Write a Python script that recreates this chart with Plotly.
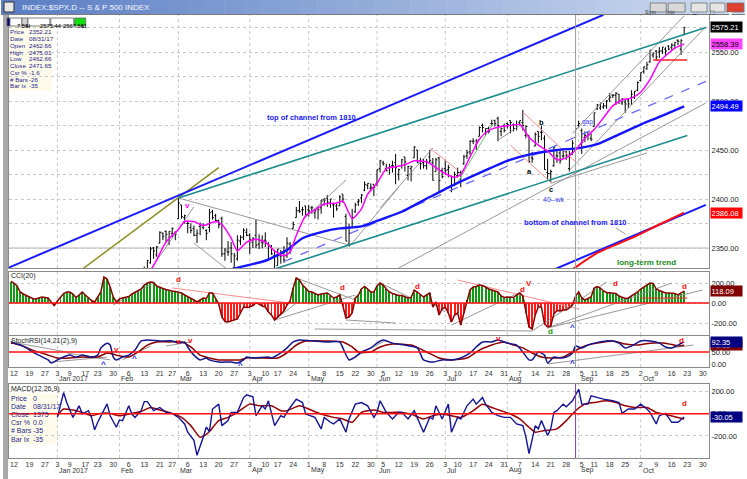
import pandas as pd
import plotly.graph_objects as go

# ---------------- trading calendar ----------------
HOLIDAYS = {"2016-12-26", "2017-01-02", "2017-01-16", "2017-02-20", "2017-04-14",
            "2017-05-29", "2017-07-04", "2017-09-04", "2017-11-23"}
CAL = [d.strftime("%Y-%m-%d") for d in pd.bdate_range("2016-12-01", "2017-11-30")]
CAL = [d for d in CAL if d not in HOLIDAYS]
BASE = CAL.index("2016-12-12")
POS = {d: i - BASE for i, d in enumerate(CAL)}


def ix(d):
    return POS[d]


def sessions(a, b):
    return [d for d in CAL if a <= d <= b]


# ---------------- tick labels ----------------
week_ticks = ["2016-12-12", "2016-12-19", "2016-12-27", "2017-01-03", "2017-01-09", "2017-01-17",
              "2017-01-23", "2017-01-30", "2017-02-06", "2017-02-13", "2017-02-21", "2017-02-27",
              "2017-03-06", "2017-03-13", "2017-03-20", "2017-03-27", "2017-04-03", "2017-04-10",
              "2017-04-17", "2017-04-24", "2017-05-01", "2017-05-08", "2017-05-15", "2017-05-22",
              "2017-05-30", "2017-06-05", "2017-06-12", "2017-06-19", "2017-06-26", "2017-07-03",
              "2017-07-10", "2017-07-17", "2017-07-24", "2017-07-31", "2017-08-07", "2017-08-14",
              "2017-08-21", "2017-08-28", "2017-09-05", "2017-09-11", "2017-09-18", "2017-09-25",
              "2017-10-02", "2017-10-09", "2017-10-16", "2017-10-23", "2017-10-30"]
week_text = [str(int(d[8:])) for d in week_ticks]
month_dates = ["2017-01-03", "2017-02-01", "2017-03-01", "2017-04-03", "2017-05-01", "2017-06-01",
               "2017-07-03", "2017-08-01", "2017-09-01", "2017-10-02"]
month_text = ["Jan 2017", "Feb", "Mar", "Apr", "May", "Jun", "Jul", "Aug", "Sep", "Oct"]

price_ticks = [2350, 2400, 2450, 2500, 2550]
cci_ticks = [-200, 0, 200]
stoch_ticks = [0, 50]
macd_ticks = [-200, 0, 200]

# ---------------- price bars (2017-02-13 .. 2017-10-20) ----------------
bar_start, bar_end = "2017-02-13", "2017-10-20"
opens = [
    2321, 2326, 2335, 2350, 2343, 2355, 2365, 2367, 2355, 2365, 2366,
    2380, 2394, 2381, 2375, 2371, 2370, 2363, 2372, 2371, 2368, 2371, 2387, 2383, 2378, 2380, 2344, 2346, 2350, 2330, 2339, 2357, 2361, 2366,
    2363, 2356, 2363, 2354, 2356, 2358, 2354, 2352, 2342, 2332, 2342, 2346, 2342, 2354, 2370, 2381, 2388, 2389, 2393,
    2389, 2391, 2386, 2391, 2391, 2399, 2401, 2396, 2394, 2393, 2393, 2405, 2382, 2354, 2371, 2387, 2397, 2401, 2409, 2414, 2411, 2415,
    2416, 2431, 2437, 2431, 2432, 2434, 2437, 2425, 2434, 2443, 2424, 2431, 2442, 2450, 2439, 2437, 2434, 2443, 2437, 2428, 2442, 2429,
    2431, 2430, 2423, 2414, 2424, 2427, 2436, 2444, 2448, 2459, 2455, 2464, 2475, 2467, 2472, 2477, 2480, 2482, 2469, 2475,
    2477, 2480, 2476, 2476, 2478, 2478, 2465, 2465, 2442, 2454, 2469, 2468, 2462, 2427, 2426, 2434, 2444, 2447, 2444, 2448, 2431, 2447, 2462.66,
    2475, 2470, 2463, 2468, 2462, 2474, 2492, 2493, 2494, 2495, 2502, 2506, 2506, 2507, 2498, 2499, 2501, 2503, 2504, 2511,
    2521, 2530, 2533, 2540, 2547, 2551, 2550, 2551, 2553, 2556, 2555, 2557, 2562, 2553, 2567.56]
highs = [
    2331, 2338, 2351, 2351, 2352, 2367, 2366, 2368, 2367, 2371, 2367,
    2401, 2394, 2384, 2378, 2375, 2373, 2369, 2376, 2375, 2369, 2390, 2389, 2385, 2379, 2382, 2350, 2357, 2356, 2345, 2363, 2363, 2370, 2370,
    2365, 2361, 2379, 2364, 2363, 2366, 2356, 2353, 2348, 2349, 2348, 2352, 2361, 2356, 2377, 2392, 2398, 2392, 2393,
    2394, 2393, 2390, 2392, 2399, 2401, 2404, 2400, 2395, 2395, 2404, 2405, 2385, 2375, 2390, 2396, 2400, 2405, 2418, 2416, 2416, 2415,
    2430, 2440, 2439, 2436, 2436, 2439, 2446, 2431, 2441, 2443, 2434, 2434, 2454, 2450, 2442, 2441, 2441, 2450, 2442, 2442, 2443, 2432,
    2440, 2435, 2424, 2428, 2432, 2429, 2445, 2450, 2460, 2462, 2461, 2474, 2477, 2472, 2474, 2481, 2481, 2484, 2473, 2477,
    2478, 2480, 2477, 2480, 2480, 2491, 2475, 2465, 2448, 2468, 2469, 2475, 2465, 2441, 2430, 2454, 2449, 2450, 2452, 2449, 2449, 2460, 2475.01,
    2480, 2472, 2469, 2468, 2467, 2488, 2497, 2498, 2498, 2501, 2508, 2507, 2509, 2507, 2503, 2502, 2503, 2511, 2510, 2520,
    2529, 2535, 2540, 2552, 2549, 2552, 2555, 2555, 2555, 2557, 2559, 2560, 2563, 2563, 2575.44]
lows = [
    2321, 2322, 2334, 2339, 2341, 2355, 2358, 2356, 2353, 2361, 2358,
    2380, 2380, 2375, 2365, 2365, 2362, 2355, 2363, 2369, 2358, 2366, 2379, 2377, 2370, 2341, 2337, 2342, 2335, 2322, 2337, 2353, 2358, 2362,
    2344, 2350, 2350, 2349, 2350, 2351, 2337, 2343, 2329, 2332, 2334, 2335, 2340, 2344, 2370, 2381, 2386, 2383, 2382,
    2382, 2385, 2380, 2379, 2385, 2393, 2392, 2391, 2381, 2388, 2393, 2396, 2357, 2352, 2371, 2386, 2393, 2396, 2408, 2410, 2409, 2403,
    2413, 2427, 2434, 2428, 2425, 2427, 2415, 2419, 2431, 2428, 2419, 2418, 2442, 2437, 2430, 2431, 2430, 2436, 2419, 2428, 2406, 2421,
    2425, 2422, 2407, 2413, 2422, 2412, 2435, 2441, 2445, 2456, 2450, 2464, 2468, 2465, 2467, 2474, 2474, 2459, 2464, 2468,
    2472, 2467, 2469, 2470, 2475, 2470, 2462, 2437, 2437, 2454, 2457, 2460, 2430, 2420, 2417, 2433, 2437, 2436, 2441, 2440, 2428, 2445, 2462.66,
    2473, 2446, 2458, 2460, 2459, 2474, 2491, 2491, 2492, 2492, 2499, 2503, 2496, 2497, 2496, 2488, 2493, 2496, 2502, 2510,
    2520, 2528, 2532, 2539, 2544, 2541, 2544, 2548, 2547, 2552, 2552, 2553, 2557, 2547, 2567.56]
closes = [
    2328, 2337, 2349, 2347, 2351, 2366, 2362, 2364, 2367, 2370, 2364,
    2396, 2382, 2383, 2375, 2368, 2363, 2365, 2373, 2373, 2365, 2386, 2381, 2378, 2374, 2344, 2348, 2346, 2344, 2342, 2358, 2361, 2368, 2363,
    2359, 2360, 2353, 2358, 2355, 2357, 2353, 2344, 2329, 2349, 2342, 2338, 2355, 2348, 2374, 2388, 2387, 2389, 2384,
    2388, 2391, 2388, 2389, 2399, 2399, 2397, 2400, 2395, 2390, 2402, 2400, 2357, 2365, 2381, 2394, 2398, 2404, 2415, 2416, 2412, 2412,
    2430, 2439, 2436, 2429, 2433, 2434, 2432, 2430, 2440, 2438, 2433, 2433, 2453, 2437, 2436, 2434, 2438, 2439, 2419, 2440, 2419, 2423,
    2429, 2432, 2410, 2425, 2427, 2426, 2443, 2447, 2459, 2459, 2460, 2473, 2473, 2472, 2469, 2477, 2477, 2475, 2472, 2470,
    2476, 2478, 2472, 2476, 2480, 2475, 2474, 2438, 2441, 2466, 2464, 2468, 2430, 2426, 2428, 2453, 2444, 2439, 2444, 2444, 2446, 2457, 2471.65,
    2477, 2458, 2465, 2465, 2461, 2488, 2496, 2498, 2495, 2500, 2504, 2506, 2508, 2500, 2502, 2497, 2497, 2507, 2510, 2519,
    2529, 2535, 2537, 2552, 2549, 2545, 2551, 2555, 2551, 2553, 2557, 2560, 2561, 2562, 2575.21]

# short moving average (magenta) and 50-day average (blue)
ma_fast = [("2017-02-13", 2315), ("2017-02-17", 2338), ("2017-02-23", 2356), ("2017-03-01", 2369),
           ("2017-03-03", 2377), ("2017-03-08", 2377), ("2017-03-13", 2373), ("2017-03-17", 2377),
           ("2017-03-21", 2374), ("2017-03-24", 2360), ("2017-03-28", 2347), ("2017-03-31", 2356),
           ("2017-04-05", 2359), ("2017-04-10", 2356), ("2017-04-13", 2347), ("2017-04-19", 2342),
           ("2017-04-21", 2346), ("2017-04-25", 2363), ("2017-04-28", 2383), ("2017-05-03", 2389),
           ("2017-05-08", 2395), ("2017-05-12", 2396), ("2017-05-16", 2398), ("2017-05-19", 2380),
           ("2017-05-24", 2390), ("2017-05-26", 2405), ("2017-06-01", 2416), ("2017-06-06", 2431),
           ("2017-06-09", 2433), ("2017-06-14", 2435), ("2017-06-19", 2439), ("2017-06-23", 2438),
           ("2017-06-28", 2432), ("2017-07-03", 2426), ("2017-07-07", 2422), ("2017-07-11", 2425),
           ("2017-07-14", 2443), ("2017-07-19", 2461), ("2017-07-24", 2470), ("2017-07-28", 2474),
           ("2017-08-02", 2475), ("2017-08-07", 2476), ("2017-08-10", 2463), ("2017-08-15", 2455),
           ("2017-08-18", 2449), ("2017-08-23", 2440), ("2017-08-28", 2442), ("2017-08-31", 2450),
           ("2017-09-06", 2462), ("2017-09-11", 2471), ("2017-09-14", 2483), ("2017-09-19", 2495),
           ("2017-09-22", 2501), ("2017-09-27", 2503), ("2017-10-02", 2509), ("2017-10-05", 2522),
           ("2017-10-10", 2540), ("2017-10-13", 2549), ("2017-10-17", 2554), ("2017-10-20", 2558.39)]
ma_50 = [("2017-03-20", 2322), ("2017-03-27", 2329), ("2017-04-10", 2337), ("2017-04-20", 2348),
         ("2017-04-27", 2360), ("2017-05-08", 2367), ("2017-05-15", 2370), ("2017-05-24", 2372),
         ("2017-06-05", 2380), ("2017-06-13", 2387), ("2017-06-26", 2402), ("2017-07-07", 2415),
         ("2017-07-20", 2428), ("2017-08-01", 2439), ("2017-08-11", 2446), ("2017-08-23", 2450),
         ("2017-09-01", 2452), ("2017-09-12", 2456), ("2017-09-21", 2466), ("2017-10-02", 2476),
         ("2017-10-11", 2485), ("2017-10-20", 2494.49)]
long_term_trend = [("2017-08-29", 2326), ("2017-09-12", 2345), ("2017-09-27", 2360),
                   ("2017-10-10", 2374), ("2017-10-20", 2386.08)]

# drawn trendlines: (date1, value1, date2, value2)
blue_channel = [("2016-12-08", 2329.6, "2017-09-14", 2588), ("2017-08-22", 2328, "2017-10-31", 2394)]
teal_channel = [("2017-03-01", 2401, "2017-10-31", 2575), ("2017-04-12", 2327.5, "2017-10-23", 2464.8)]
olive_lines = [("2017-01-12", 2326, "2017-03-20", 2432)]
blue_dashed = [("2017-04-19", 2336, "2017-10-31", 2520)]
gray_main = [("2017-03-01", 2401, "2017-05-18", 2353), ("2017-02-15", 2328, "2017-03-08", 2392),
             ("2017-03-08", 2355, "2017-03-23", 2327.6), ("2017-05-18", 2351, "2017-06-12", 2412),
             ("2017-04-27", 2378.6, "2017-05-17", 2419.4), ("2017-06-12", 2329.6, "2017-10-31", 2498),
             ("2017-08-21", 2416, "2017-10-04", 2447), ("2017-08-30", 2467, "2017-10-20", 2587),
             ("2017-08-29", 2429, "2017-10-31", 2576), ("2017-09-20", 2370.4, "2017-09-25", 2364.3),
             ("2017-07-27", 2460, "2017-08-07", 2475), ("2017-06-02", 2391, "2017-06-27", 2452)]
salmon_main = [("2017-06-26", 2452, "2017-07-10", 2429.6), ("2017-08-08", 2488.8, "2017-08-31", 2437.8),
               ("2017-08-02", 2455, "2017-08-21", 2417)]
green_main = [("2017-07-10", 2417, "2017-07-25", 2475.5)]
red_main = [("2017-10-06", 2542, "2017-10-23", 2542)]

# ---------------- CCI(20), one value per session from 2016-12-09 ----------------
cci_start = "2016-12-09"
cci = [215, 200, 170, 110, 90, 75, 60, 45, 40, 50, 60, 55, 50, 10, -25,
       20, 60, 95, 110, 110, 90, 55, 80, 110, 80, 50, 25, 10, 60, 110, 260, 240, 160, 60, 10,
       40, 50, 60, 65, 90, 105, 125, 140, 180, 200, 210, 205, 170, 155, 145, 135, 125, 120, 115,
       110, 100, 80, 65, 45, 30, 10, 30, 50, 45, 100, 100, 40, -10, -140, -185, -190, -180, -170, -160, -100, -40, -45,
       -40, -25, 0, -10, -30, -40, -90, -120, -170, -140, -110, -80, -20, 20, 150, 250, 230, 180, 150,
       115, 110, 95, 80, 90, 95, 100, 75, 50, 60, 80, -30, -150, -140, -100, 50, 80, 140, 165, 140, 110, 110,
       170, 200, 180, 140, 110, 95, 85, 75, 75, 60, 50, 55, 130, 110, 80, 60, 80, 100, -40, 10, -120, -60,
       -40, -100, -190, -120, -100, -220, -100, 30, 130, 160, 165, 180, 175, 160, 140, 130, 120, 110, 70, 55,
       60, 60, 55, 80, 100, 70, -100, -240, -260, -120, -40, -40, -210, -240, -230, -110, -75, -80, -70, -70, -50, -20, 70,
       110, 50, 30, 45, 60, 150, 165, 150, 120, 105, 100, 100, 95, 70, 55, 45, 50, 70, 95, 110,
       140, 160, 180, 200, 195, 140, 125, 110, 100, 100, 100, 95, 80, 95, 118.09]
salmon_cci = [("2017-02-27", 150, "2017-04-21", 0), ("2017-07-10", 230, "2017-09-01", -60)]
gray_cci = [("2017-01-30", -20, "2017-02-16", 200), ("2017-04-13", -170, "2017-04-25", 0),
            ("2017-04-13", -170, "2017-05-22", 80), ("2017-04-25", 250, "2017-05-22", 30),
            ("2017-05-17", -170, "2017-06-09", -200), ("2017-05-03", -260, "2017-08-11", -280),
            ("2017-06-02", 200, "2017-06-16", 50), ("2017-06-23", 30, "2017-07-03", -90),
            ("2017-07-06", -220, "2017-08-08", 120), ("2017-08-11", -280, "2017-09-15", 210),
            ("2017-08-18", -250, "2017-10-16", 200), ("2017-08-18", -250, "2017-10-30", 130)]
red_cci = [("2017-10-02", 50, "2017-10-23", 50)]

# ---------------- StochRSI ----------------
stoch_k = [("2016-12-09", 93), ("2016-12-12", 87), ("2016-12-14", 79), ("2016-12-16", 67), ("2016-12-20", 50),
           ("2016-12-22", 37), ("2016-12-28", 17), ("2016-12-29", 4), ("2017-01-03", 17), ("2017-01-05", 29),
           ("2017-01-09", 37), ("2017-01-11", 29), ("2017-01-13", 37), ("2017-01-19", 29), ("2017-01-23", 37),
           ("2017-01-24", 67), ("2017-01-26", 87), ("2017-01-27", 79), ("2017-01-30", 29), ("2017-01-31", 17),
           ("2017-02-02", 29), ("2017-02-06", 37), ("2017-02-08", 58), ("2017-02-09", 79), ("2017-02-10", 96),
           ("2017-02-14", 100), ("2017-02-21", 96), ("2017-02-27", 96), ("2017-03-01", 87), ("2017-03-03", 92),
           ("2017-03-06", 71), ("2017-03-08", 37), ("2017-03-10", 17), ("2017-03-14", 25), ("2017-03-15", 17),
           ("2017-03-20", 8), ("2017-03-24", 8), ("2017-03-28", 4), ("2017-03-30", 17), ("2017-03-31", 29),
           ("2017-04-04", 25), ("2017-04-11", 29), ("2017-04-12", 25), ("2017-04-18", 46), ("2017-04-20", 67),
           ("2017-04-24", 92), ("2017-04-26", 100), ("2017-05-02", 96), ("2017-05-09", 92), ("2017-05-15", 92),
           ("2017-05-16", 67), ("2017-05-18", 17), ("2017-05-22", 29), ("2017-05-24", 50), ("2017-05-30", 67),
           ("2017-06-01", 87), ("2017-06-05", 100), ("2017-06-08", 87), ("2017-06-14", 79), ("2017-06-20", 67),
           ("2017-06-22", 17), ("2017-06-27", 8), ("2017-06-30", 17), ("2017-07-06", 17), ("2017-07-11", 25),
           ("2017-07-14", 46), ("2017-07-18", 71), ("2017-07-20", 92), ("2017-07-25", 92), ("2017-07-27", 100),
           ("2017-08-01", 87), ("2017-08-04", 79), ("2017-08-08", 50), ("2017-08-10", 17), ("2017-08-11", 17),
           ("2017-08-15", 50), ("2017-08-17", 37), ("2017-08-18", 4), ("2017-08-22", 29), ("2017-08-24", 25),
           ("2017-08-28", 29), ("2017-08-30", 46), ("2017-08-31", 75), ("2017-09-05", 67), ("2017-09-07", 79),
           ("2017-09-11", 87), ("2017-09-15", 96), ("2017-09-19", 96), ("2017-09-21", 87), ("2017-09-25", 67),
           ("2017-09-27", 75), ("2017-10-02", 96), ("2017-10-05", 96), ("2017-10-10", 87), ("2017-10-12", 71),
           ("2017-10-16", 67), ("2017-10-18", 79), ("2017-10-20", 92.35)]
stoch_d = [("2016-12-09", 87), ("2016-12-14", 79), ("2016-12-20", 58), ("2016-12-28", 37), ("2017-01-03", 25),
           ("2017-01-09", 25), ("2017-01-13", 29), ("2017-01-23", 29), ("2017-01-26", 46), ("2017-01-31", 37),
           ("2017-02-06", 29), ("2017-02-09", 50), ("2017-02-14", 79), ("2017-02-17", 92), ("2017-02-24", 92),
           ("2017-03-02", 92), ("2017-03-07", 71), ("2017-03-10", 37), ("2017-03-15", 25), ("2017-03-20", 17),
           ("2017-03-27", 17), ("2017-03-29", 17), ("2017-03-31", 25), ("2017-04-06", 25), ("2017-04-17", 25),
           ("2017-04-20", 46), ("2017-04-25", 79), ("2017-04-28", 96), ("2017-05-09", 96), ("2017-05-16", 92),
           ("2017-05-19", 71), ("2017-05-23", 50), ("2017-05-30", 50), ("2017-06-02", 71), ("2017-06-08", 83),
           ("2017-06-16", 79), ("2017-06-23", 50), ("2017-06-29", 25), ("2017-07-06", 17), ("2017-07-13", 25),
           ("2017-07-19", 58), ("2017-07-25", 79), ("2017-07-27", 87), ("2017-07-31", 92), ("2017-08-03", 79),
           ("2017-08-08", 67), ("2017-08-11", 46), ("2017-08-16", 29), ("2017-08-21", 25), ("2017-08-25", 29),
           ("2017-08-30", 50), ("2017-09-06", 75), ("2017-09-12", 87), ("2017-09-19", 96), ("2017-09-25", 83),
           ("2017-09-29", 79), ("2017-10-05", 87), ("2017-10-12", 87), ("2017-10-18", 75), ("2017-10-20", 78.18)]
gray_stoch = [("2016-12-09", 92, "2017-01-06", 50), ("2017-01-06", 46, "2017-01-27", 17),
              ("2016-12-29", 8, "2017-01-26", 29), ("2017-02-02", 17, "2017-02-15", 75),
              ("2017-02-23", 75, "2017-03-07", 92), ("2017-04-17", 21, "2017-04-26", 92),
              ("2017-05-18", 17, "2017-06-06", 100), ("2017-08-18", 0, "2017-10-25", 79)]

# ---------------- MACD(12,26,9) ----------------
macd_line = [("2017-01-03", -33), ("2017-01-05", 190), ("2017-01-06", 100), ("2017-01-10", -33), ("2017-01-12", 71),
             ("2017-01-13", -3), ("2017-01-18", 27), ("2017-01-19", -33), ("2017-01-20", -145), ("2017-01-23", -77),
             ("2017-01-26", 89), ("2017-01-27", -18), ("2017-01-31", -122), ("2017-02-01", -56), ("2017-02-02", -62),
             ("2017-02-06", 71), ("2017-02-07", -3), ("2017-02-08", -33), ("2017-02-10", 27), ("2017-02-13", 109),
             ("2017-02-14", 109), ("2017-02-16", 27), ("2017-02-21", 56), ("2017-02-23", 12), ("2017-02-27", 3),
             ("2017-03-01", -33), ("2017-03-03", -92), ("2017-03-06", -166), ("2017-03-08", -240), ("2017-03-09", -374),
             ("2017-03-13", -211), ("2017-03-14", -120), ("2017-03-15", -160), ("2017-03-16", 42), ("2017-03-20", 86),
             ("2017-03-21", -107), ("2017-03-23", -62), ("2017-03-24", 12), ("2017-03-28", 12), ("2017-03-30", 145),
             ("2017-03-31", 169), ("2017-04-04", 151), ("2017-04-05", -18), ("2017-04-07", 71), ("2017-04-10", 42),
             ("2017-04-11", 116), ("2017-04-13", -107), ("2017-04-18", -18), ("2017-04-19", -33), ("2017-04-21", 56),
             ("2017-04-25", 131), ("2017-04-27", 100), ("2017-04-28", -3), ("2017-05-03", -33), ("2017-05-05", -136),
             ("2017-05-08", -33), ("2017-05-10", -77), ("2017-05-11", -92), ("2017-05-15", -47), ("2017-05-17", -166),
             ("2017-05-18", -47), ("2017-05-22", 86), ("2017-05-24", 100), ("2017-05-26", 71), ("2017-05-31", -33),
             ("2017-06-01", 12), ("2017-06-02", 116), ("2017-06-06", 12), ("2017-06-08", -47), ("2017-06-12", 12),
             ("2017-06-13", 12), ("2017-06-15", -47), ("2017-06-19", 27), ("2017-06-22", -166), ("2017-06-26", -33),
             ("2017-06-27", -47), ("2017-06-28", 71), ("2017-06-30", -47), ("2017-07-05", 86), ("2017-07-06", -166),
             ("2017-07-10", -33), ("2017-07-11", -47), ("2017-07-13", 71), ("2017-07-17", 131), ("2017-07-18", 86),
             ("2017-07-20", 145), ("2017-07-21", 86), ("2017-07-25", 12), ("2017-07-27", -18), ("2017-07-31", -33),
             ("2017-08-02", -33), ("2017-08-04", -92), ("2017-08-08", -107), ("2017-08-09", -211), ("2017-08-10", -359),
             ("2017-08-11", -225), ("2017-08-14", -107), ("2017-08-15", -136), ("2017-08-16", -62), ("2017-08-18", -196),
             ("2017-08-21", -136), ("2017-08-22", 12), ("2017-08-23", 27), ("2017-08-25", 86), ("2017-08-28", 62),
             ("2017-08-30", 116), ("2017-09-01", 220), ("2017-09-05", 86), ("2017-09-07", 86), ("2017-09-08", 160),
             ("2017-09-12", 145), ("2017-09-14", 131), ("2017-09-19", 116), ("2017-09-21", 100), ("2017-09-22", 3),
             ("2017-09-26", 42), ("2017-09-28", 42), ("2017-10-02", 86), ("2017-10-04", 42), ("2017-10-05", 12),
             ("2017-10-09", -92), ("2017-10-10", -18), ("2017-10-12", 3), ("2017-10-16", -77), ("2017-10-18", -77),
             ("2017-10-20", -30.05)]
macd_signal = [("2017-01-03", -18), ("2017-01-05", 42), ("2017-01-10", 33), ("2017-01-13", 12), ("2017-01-19", -18),
               ("2017-01-24", 3), ("2017-01-27", 3), ("2017-02-01", -18), ("2017-02-07", 3), ("2017-02-10", 20),
               ("2017-02-15", 56), ("2017-02-21", 33), ("2017-02-24", 12), ("2017-03-02", -33), ("2017-03-07", -107),
               ("2017-03-10", -211), ("2017-03-14", -185), ("2017-03-15", -160), ("2017-03-20", -62), ("2017-03-23", -33),
               ("2017-03-28", 12), ("2017-04-03", 86), ("2017-04-06", 71), ("2017-04-12", 71), ("2017-04-18", 27),
               ("2017-04-20", 27), ("2017-04-26", 71), ("2017-05-01", 42), ("2017-05-05", -3), ("2017-05-11", -33),
               ("2017-05-16", -47), ("2017-05-19", -77), ("2017-05-24", 12), ("2017-05-31", 33), ("2017-06-05", 12),
               ("2017-06-08", 12), ("2017-06-13", 12), ("2017-06-16", -3), ("2017-06-22", -47), ("2017-06-27", -18),
               ("2017-06-30", -3), ("2017-07-06", -18), ("2017-07-11", -33), ("2017-07-17", 27), ("2017-07-20", 86),
               ("2017-07-25", 56), ("2017-07-28", 27), ("2017-08-02", -3), ("2017-08-07", -47), ("2017-08-10", -122),
               ("2017-08-14", -166), ("2017-08-17", -151), ("2017-08-23", -136), ("2017-08-28", -62), ("2017-08-31", 27),
               ("2017-09-06", 86), ("2017-09-11", 100), ("2017-09-15", 116), ("2017-09-20", 100), ("2017-09-25", 71),
               ("2017-09-28", 56), ("2017-10-04", 56), ("2017-10-09", 12), ("2017-10-12", -7), ("2017-10-17", -27),
               ("2017-10-20", -47)]

cursor_date = "2017-08-31"

# =====================================================================
FONT = "Liberation Sans, Arial, sans-serif"
W, H = 747, 479
ML, MR, MT, MB = 8, 36, 15, 21
PW, PH = W - ML - MR, H - MT - MB


def px(x):
    return (x - ML) / PW


def py(y):
    return (H - MB - y) / PH


fig = go.Figure()


def add_line(pairs, color, width, xa, ya, dash="solid", shape="linear"):
    fig.add_trace(go.Scatter(x=[ix(d) for d, _ in pairs], y=[v for _, v in pairs], mode="lines",
                             line=dict(color=color, width=width, dash=dash, shape=shape, smoothing=0.6),
                             xaxis=xa, yaxis=ya, hoverinfo="skip"))


def add_segs(segs, color, width, xa, ya, dash="solid"):
    xs, ys = [], []
    for d1, v1, d2, v2 in segs:
        xs += [ix(d1), ix(d2), None]
        ys += [v1, v2, None]
    fig.add_trace(go.Scatter(x=xs, y=ys, mode="lines", line=dict(color=color, width=width, dash=dash),
                             xaxis=xa, yaxis=ya, hoverinfo="skip", connectgaps=False))


# ---- main panel ----
add_segs(olive_lines, "#8a8a1a", 1.4, "x", "y")
add_segs(gray_main, "#8c8c8c", 0.9, "x", "y")
add_segs(salmon_main, "#ff8c8c", 1.0, "x", "y")
add_segs(green_main, "#70c070", 1.0, "x", "y")
add_segs(teal_channel, "#1a8c8c", 1.6, "x", "y")
add_segs(blue_channel, "#1a1aff", 2.0, "x", "y")
add_segs(blue_dashed, "#6a6aff", 1.3, "x", "y", dash="dash")
add_line(long_term_trend, "#ff1010", 2.0, "x", "y", shape="spline")
add_segs(red_main, "#ff2020", 1.5, "x", "y")
bdates = sessions(bar_start, bar_end)
fig.add_trace(go.Ohlc(x=[ix(d) for d in bdates], open=opens, high=highs, low=lows, close=closes,
                      increasing=dict(line=dict(color="#000000", width=1.0)),
                      decreasing=dict(line=dict(color="#000000", width=1.0)),
                      tickwidth=0.45, xaxis="x", yaxis="y", hoverinfo="skip"))
add_line(ma_50, "#1414ff", 2.4, "x", "y", shape="spline")
add_line(ma_fast, "#ff00ff", 1.5, "x", "y", shape="spline")

# ---- CCI panel ----
cdates = sessions(cci_start, bar_end)
cx = [ix(d) for d in cdates][:len(cci)]
fig.add_trace(go.Bar(x=cx, y=cci[:len(cx)], width=0.32,
                     marker=dict(color=["#109a10" if v >= 0 else "#ff1a1a" for v in cci[:len(cx)]], line=dict(width=0)),
                     xaxis="x2", yaxis="y2", hoverinfo="skip"))
add_segs(salmon_cci, "#ff8c8c", 1.0, "x2", "y2")
add_segs(gray_cci, "#8c8c8c", 0.9, "x2", "y2")
add_segs(red_cci, "#ff2020", 1.2, "x2", "y2")
fig.add_trace(go.Scatter(x=cx, y=cci[:len(cx)], mode="lines", line=dict(color="#8b0000", width=1.5),
                         xaxis="x2", yaxis="y2", hoverinfo="skip"))

# ---- StochRSI panel ----
add_segs(gray_stoch, "#8c8c8c", 0.9, "x3", "y3")
add_line(stoch_d, "#8b0000", 1.5, "x3", "y3", shape="spline")
add_line(stoch_k, "#14148c", 1.5, "x3", "y3", shape="spline")

# ---- MACD panel ----
add_line(macd_signal, "#990000", 1.5, "x4", "y4", shape="spline")
add_line(macd_line, "#141496", 1.4, "x4", "y4")

# ---------------- axes ----------------
XR = [-1.6, (W - MR - 13) / 3.116]
GRID = "#c8c8c8"
AX = "#8a8a8a"
dom = {
    "y": [py(268), 1.0],
    "y2": [py(335), py(272)],
    "y3": [py(367), py(336)],
    "y4": [0.0, py(384)],
}
base_x = dict(range=XR, showgrid=False, zeroline=False, showline=True, mirror=True, linecolor=AX,
              linewidth=1, ticks="", fixedrange=True)
fig.update_layout(
    xaxis=dict(base_x, anchor="y", showticklabels=False, rangeslider=dict(visible=False)),
    xaxis2=dict(base_x, anchor="y2", matches="x", showticklabels=False),
    xaxis3=dict(base_x, anchor="y3", matches="x", tickmode="array",
                tickvals=[ix(d) for d in week_ticks], ticktext=week_text,
                tickfont=dict(size=7, color="#333333")),
    xaxis4=dict(base_x, anchor="y4", matches="x", tickmode="array",
                tickvals=[ix(d) for d in week_ticks], ticktext=week_text,
                tickfont=dict(size=7, color="#333333")),
)
base_y = dict(side="right", zeroline=False, showline=True, mirror=True, linecolor=AX, linewidth=1,
              ticks="", showgrid=True, gridcolor=GRID, griddash="dot", gridwidth=1,
              tickfont=dict(size=7.5, color="#222222"), fixedrange=True)
fig.update_layout(
    yaxis=dict(base_y, domain=dom["y"], anchor="x", range=[2329.6, 2587.8], tickmode="array",
               tickvals=price_ticks, ticktext=["%.2f" % v for v in price_ticks],
               minor=dict(tick0=2325, dtick=25, showgrid=True, gridcolor=GRID, griddash="dot")),
    yaxis2=dict(base_y, domain=dom["y2"], anchor="x2", range=[-320, 310], tickmode="array",
                tickvals=cci_ticks, ticktext=["%.2f" % v for v in cci_ticks]),
    yaxis3=dict(base_y, domain=dom["y3"], anchor="x3", range=[-12.5, 116.7], tickmode="array",
                tickvals=stoch_ticks, ticktext=["%.2f" % v for v in stoch_ticks], showgrid=False),
    yaxis4=dict(base_y, domain=dom["y4"], anchor="x4", range=[-398, 267], tickmode="array",
                tickvals=macd_ticks, ticktext=["%.2f" % v for v in macd_ticks]),
)

shapes = []
ann = []
# month grid lines + cursor
for xa, ya in [("x", "y"), ("x2", "y2"), ("x3", "y3"), ("x4", "y4")]:
    for d in month_dates:
        shapes.append(dict(type="line", xref=xa, yref=ya + " domain", x0=ix(d), x1=ix(d), y0=0, y1=1,
                           line=dict(color=GRID, width=1, dash="dot"), layer="below"))
    shapes.append(dict(type="line", xref=xa, yref=ya + " domain", x0=ix(cursor_date), x1=ix(cursor_date),
                       y0=0, y1=1, line=dict(color="#8040a0" if ya == "y4" else "#9a9a9a", width=1)))
# horizontal reference lines
shapes.append(dict(type="line", xref="x domain", yref="y", x0=0, x1=1, y0=2350, y1=2350,
                   line=dict(color="#b4b4b4", width=1.2), layer="below"))
for ya, v in [("y2", 0), ("y3", 50), ("y4", 0)]:
    shapes.append(dict(type="line", xref="paper", yref=ya, x0=0, x1=1, y0=v, y1=v,
                       line=dict(color="#ff1010", width=1.5)))

# ---- window chrome ----
NSL = 40
c0, c1 = (92, 126, 196), (206, 220, 240)
for i in range(NSL):
    t = i / (NSL - 1)
    col = "rgb(%d,%d,%d)" % tuple(int(c0[k] + (c1[k] - c0[k]) * t) for k in range(3))
    shapes.append(dict(type="rect", xref="paper", yref="paper", x0=px(W * i / NSL), x1=px(W * (i + 1) / NSL + 0.5),
                       y0=py(14), y1=py(0), line=dict(width=0), fillcolor=col, layer="above"))
shapes.append(dict(type="line", xref="paper", yref="paper", x0=px(0), x1=px(W), y0=py(14.5), y1=py(14.5),
                   line=dict(color="#7a7a7a", width=1)))
shapes.append(dict(type="rect", xref="paper", yref="paper", x0=px(3), x1=px(13), y0=py(12), y1=py(2),
                   line=dict(color="#303030", width=1), fillcolor="#e8e8e8"))
shapes.append(dict(type="rect", xref="paper", yref="paper", x0=px(2), x1=px(7), y0=py(H), y1=py(15),
                   line=dict(width=0), fillcolor="#a8a8a8"))
for (x0, x1, col) in [(652, 668, "#d8d8d8"), (670, 687, "#d8d8d8"), (693, 709, "#e4e4e4"),
                      (712, 727, "#e4e4e4"), (729, 746, "#e04030")]:
    shapes.append(dict(type="rect", xref="paper", yref="paper", x0=px(x0), x1=px(x1), y0=py(12), y1=py(3),
                       line=dict(color="#707070", width=0.8), fillcolor=col))
ann.append(dict(text="INDEX:$SPX.D -- S & P 500 INDEX", xref="paper", yref="paper", x=px(19), y=py(7.5),
                xanchor="left", yanchor="middle", showarrow=False, font=dict(size=8, color="#f4f8ff")))
for txt, xc in [("Sym", 660), ("Intv", 678.5)]:
    ann.append(dict(text=txt, xref="paper", yref="paper", x=px(xc), y=py(7.5), showarrow=False,
                    font=dict(size=5.5, color="#333333")))
ann.append(dict(text="<b>–</b>", xref="paper", yref="paper", x=px(701), y=py(8), showarrow=False,
                font=dict(size=7, color="#222")))
ann.append(dict(text="<b>□</b>", xref="paper", yref="paper", x=px(719.5), y=py(7.5), showarrow=False,
                font=dict(size=7, color="#222")))
ann.append(dict(text="<b>x</b>", xref="paper", yref="paper", x=px(737.5), y=py(7.5), showarrow=False,
                font=dict(size=8, color="#ffffff")))

# ---- top strip ----
for (x0, x1, fill, txt, fc) in [(6, 9, "#000080", "", "#000"), (9, 21, "#ffffff", "7.56", "#000"),
                                (21, 27, "#d0d0d0", "H", "#000"), (27, 49, "#ffffff", "2575.44", "#000"),
                                (50, 73, "#ffffff", "2567.56", "#000"), (74, 85, "#10e010", "11", "#000")]:
    shapes.append(dict(type="rect", xref="paper", yref="paper", x0=px(x0), x1=px(x1), y0=py(26), y1=py(18),
                       line=dict(color="#606060", width=0.8), fillcolor=fill))
    if txt:
        ann.append(dict(text=txt, xref="paper", yref="paper", x=px((x0 + x1) / 2), y=py(21.8), showarrow=False,
                        font=dict(size=5.8, color=fc), borderpad=0))

# ---- info boxes ----
shapes.append(dict(type="rect", xref="paper", yref="paper", x0=px(7), x1=px(51), y0=py(91), y1=py(26.5),
                   line=dict(width=0), fillcolor="#fffbea", layer="below"))
info_main = [("Price", "2352.21"), ("Date", "08/31/17"), ("Open", "2462.66"), ("High", "2475.01"),
             ("Low", "2462.66"), ("Close", "2471.65"), ("Csr %", "-1.6"), ("# Bars", "-26"), ("Bar Ix", "-35")]
for i, (k, v) in enumerate(info_main):
    yy = 32 + 6.75 * i
    ann.append(dict(text=k, xref="paper", yref="paper", x=px(8), y=py(yy), xanchor="left", yanchor="middle",
                    showarrow=False, font=dict(size=6.2, color="#1e1e8c"), borderpad=0))
    ann.append(dict(text=v, xref="paper", yref="paper", x=px(27), y=py(yy), xanchor="left", yanchor="middle",
                    showarrow=False, font=dict(size=6.2, color="#1e1e8c"), borderpad=0))
shapes.append(dict(type="rect", xref="paper", yref="paper", x0=px(7), x1=px(56), y0=py(444), y1=py(393),
                   line=dict(width=0), fillcolor="#fffbea", layer="below"))
info_macd = [("Price", "0"), ("Date", "08/31/17"), ("Close", "1375"), ("Csr %", "0.0"), ("# Bars", "-35"),
             ("Bar Ix", "-35")]
for i, (k, v) in enumerate(info_macd):
    yy = 398 + 8.2 * i
    ann.append(dict(text=k, xref="paper", yref="paper", x=px(8), y=py(yy), xanchor="left", yanchor="middle",
                    showarrow=False, font=dict(size=7, color="#1e1e8c")))
    ann.append(dict(text=v, xref="paper", yref="paper", x=px(30), y=py(yy), xanchor="left", yanchor="middle",
                    showarrow=False, font=dict(size=7, color="#1e1e8c")))
for txt, yy in [("MACD(12,26,9)", 388.5), ("CCI(20)", 276), ("StochRSI(14,21(2),9)", 341)]:
    ann.append(dict(text=txt, xref="paper", yref="paper", x=px(8.5), y=py(yy), xanchor="left", yanchor="middle",
                    showarrow=False, font=dict(size=7, color="#202020")))

# ---- month labels under date rows ----
for xa, yy in [("x3", 378.5), ("x4", 470)]:
    for d, t in zip(month_dates, month_text):
        ann.append(dict(text=t, xref=xa, yref="paper", x=ix(d), y=py(yy), xanchor="left", yanchor="middle",
                        showarrow=False, font=dict(size=7, color="#333333")))

# ---- right axis value boxes ----
boxes = [("y", 2575.21, "#000000", "#ffffff"), ("y", 2558.39, "#ff44ff", "#000000"),
         ("y", 2494.49, "#0000ff", "#ffffff"), ("y", 2386.08, "#ff0000", "#ffffff"),
         ("y2", 118.09, "#800000", "#ffffff"), ("y3", 78.18, "#800000", "#ffffff"),
         ("y3", 92.35, "#000080", "#ffffff"), ("y4", -30.05, "#000080", "#ffffff")]
for ya, v, bg, fc in boxes:
    ann.append(dict(text="%.2f" % v, xref="paper", yref=ya, x=px(712), y=v, xanchor="left", yanchor="middle",
                    showarrow=False, bgcolor=bg, font=dict(size=7.5, color=fc), width=30, align="left",
                    borderpad=0.5))


# ---- chart notes ----
def note(text, d, v, ya, color, size=8, bold=False, xanchor="center", xa="x"):
    ann.append(dict(text=("<b>%s</b>" % text) if bold else text, xref=xa, yref=ya, x=ix(d), y=v,
                    xanchor=xanchor, yanchor="middle", showarrow=False, font=dict(size=size, color=color)))


note("top of channel from 1810", "2017-05-02", 2483.7, "y", "#1a1aff", 7.5, True)
note("bottom of channel from 1810", "2017-08-31", 2376.5, "y", "#1a1aff", 7.5, True)
note("long-term trend", "2017-10-04", 2335.7, "y", "#1a8a1a", 8, True)
note("40--wk", "2017-08-22", 2400, "y", "#3a3aff", 7)
note("a", "2017-08-10", 2427.6, "y", "#000000", 7.5, True)
note("b", "2017-08-16", 2478.6, "y", "#000000", 7.5, True)
note("c", "2017-08-21", 2410.2, "y", "#000000", 7.5, True)
note("v", "2017-03-06", 2393.5, "y", "#ff00ff", 8, True)
note("gap", "2017-09-07", 2478.6, "y", "#3a3aff", 6.5)
for d, v, c, t in [("2017-03-01", 240, "#ff1010", "d"), ("2017-05-16", 160, "#ff1010", "d"),
                   ("2017-06-20", 170, "#ff1010", "d"), ("2017-08-08", 140, "#ff1010", "d"),
                   ("2017-08-10", 200, "#ff1010", "V"), ("2017-08-21", -280, "#109a10", "d"),
                   ("2017-08-30", -240, "#1a1aff", "^"), ("2017-09-20", 200, "#ff1010", "d"),
                   ("2017-10-20", 170, "#ff1010", "d")]:
    note(t, d, v, "y2", c, 8, True, xa="x2")
for d, v, c, t in [("2017-01-31", 62, "#ff1010", "v"), ("2017-01-25", -4, "#1a1aff", "^"),
                   ("2017-02-08", 25, "#1a1aff", "^"), ("2017-03-01", 94, "#ff1010", "v"),
                   ("2017-03-07", 96, "#ff1010", "v"), ("2017-03-29", -8, "#1a1aff", "^"),
                   ("2017-07-27", 108, "#ff1010", "v"), ("2017-08-30", 4, "#1a1aff", "^"),
                   ("2017-10-19", 96, "#ff1010", "d")]:
    note(t, d, v, "y3", c, 8, True, xa="x3")
note("d", "2017-10-20", 88, "y4", "#ff1010", 8, True, xa="x4")

fig.update_layout(
    width=W, height=H, margin=dict(l=ML, r=MR, t=MT, b=MB, pad=0),
    paper_bgcolor="#ffffff", plot_bgcolor="#ffffff", showlegend=False,
    font=dict(family=FONT, size=8, color="#222222"),
    shapes=shapes, annotations=ann, bargap=0, hovermode=False,
)
fig.write_html("out.html", config={"displayModeBar": False})
